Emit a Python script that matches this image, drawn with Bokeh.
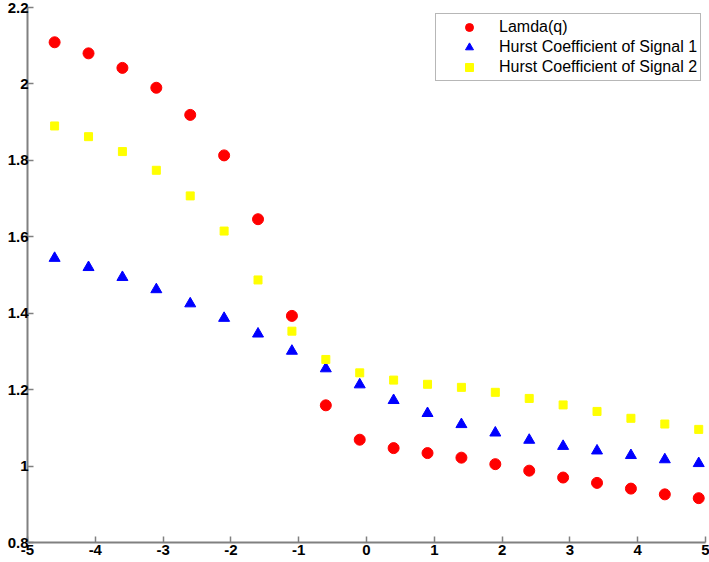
from bokeh.plotting import figure
from bokeh.models import FixedTicker, NumeralTickFormatter, Range1d, Legend, LegendItem
from bokeh.embed import file_html
from bokeh.resources import INLINE

q = [-4.6, -4.1, -3.6, -3.1, -2.6, -2.1, -1.6, -1.1, -0.6, -0.1,
     0.4, 0.9, 1.4, 1.9, 2.4, 2.9, 3.4, 3.9, 4.4, 4.9]
lamda = [2.109, 2.080, 2.042, 1.990, 1.919, 1.813, 1.646, 1.393, 1.159, 1.069,
         1.047, 1.034, 1.022, 1.005, 0.988, 0.970, 0.956, 0.941, 0.926, 0.916]
hurst1 = [1.544, 1.520, 1.494, 1.462, 1.425, 1.387, 1.346, 1.301, 1.255, 1.213,
          1.172, 1.138, 1.109, 1.087, 1.068, 1.052, 1.040, 1.028, 1.017, 1.007]
hurst2 = [1.890, 1.862, 1.823, 1.774, 1.707, 1.615, 1.487, 1.353, 1.279, 1.244,
          1.225, 1.214, 1.206, 1.193, 1.177, 1.160, 1.143, 1.125, 1.110, 1.096]
x_ticks = [-5, -4, -3, -2, -1, 0, 1, 2, 3, 4, 5]
y_ticks = [0.8, 1.0, 1.2, 1.4, 1.6, 1.8, 2.0, 2.2]
labels = ["Lamda(q)", "Hurst Coefficient of Signal 1", "Hurst Coefficient of Signal 2"]

p = figure(width=709, height=562, output_backend="svg", toolbar_location=None,
           x_range=Range1d(-5, 5), y_range=Range1d(0.8, 2.2),
           min_border_left=27, min_border_right=4, min_border_top=7, min_border_bottom=20)
p.outline_line_color = None
p.xgrid.visible = False
p.ygrid.visible = False

r1 = p.scatter(q, lamda, marker="circle", size=11, fill_color="#FF0000", line_color="#FF0000")
r2 = p.scatter(q, hurst1, marker="triangle", size=11, fill_color="#0000FF", line_color="#0000FF")
r3 = p.scatter(q, hurst2, marker="square", size=8, fill_color="#FFFF00", line_color="#FFFF00")

for ax in (p.xaxis[0], p.yaxis[0]):
    ax.axis_line_color = "#808080"
    ax.axis_line_width = 2
    ax.major_tick_line_color = "#808080"
    ax.major_tick_line_width = 1.5
    ax.major_tick_in = 6
    ax.major_tick_out = 0
    ax.minor_tick_line_color = None
    ax.axis_label_standoff = 0
    ax.major_label_text_font = "Arial"
    ax.major_label_text_font_style = "bold"
    ax.major_label_text_font_size = "15px"
    ax.major_label_text_color = "#000000"
p.yaxis.major_label_standoff = -1
p.xaxis.major_label_standoff = 2

p.xaxis.ticker = FixedTicker(ticks=x_ticks)
p.yaxis.ticker = FixedTicker(ticks=y_ticks)
p.xaxis.formatter = NumeralTickFormatter(format="0")
p.yaxis.formatter = NumeralTickFormatter(format="0.[0]")

legend = Legend(items=[LegendItem(label=labels[0], renderers=[r1]),
                       LegendItem(label=labels[1], renderers=[r2]),
                       LegendItem(label=labels[2], renderers=[r3])],
                location=(408, 461))
legend.padding = 3
legend.spacing = 0
legend.margin = 0
legend.glyph_width = 60
legend.glyph_height = 20
legend.label_height = 20
legend.label_width = 197
legend.label_standoff = 0
legend.label_text_font = "Liberation Sans"
legend.label_text_font_size = "16px"
legend.label_text_color = "#000000"
legend.border_line_color = "#707070"
legend.border_line_width = 1.5
legend.background_fill_color = "white"
legend.background_fill_alpha = 1
p.add_layout(legend, "center")

open("out.html", "w").write(file_html(p, INLINE))
